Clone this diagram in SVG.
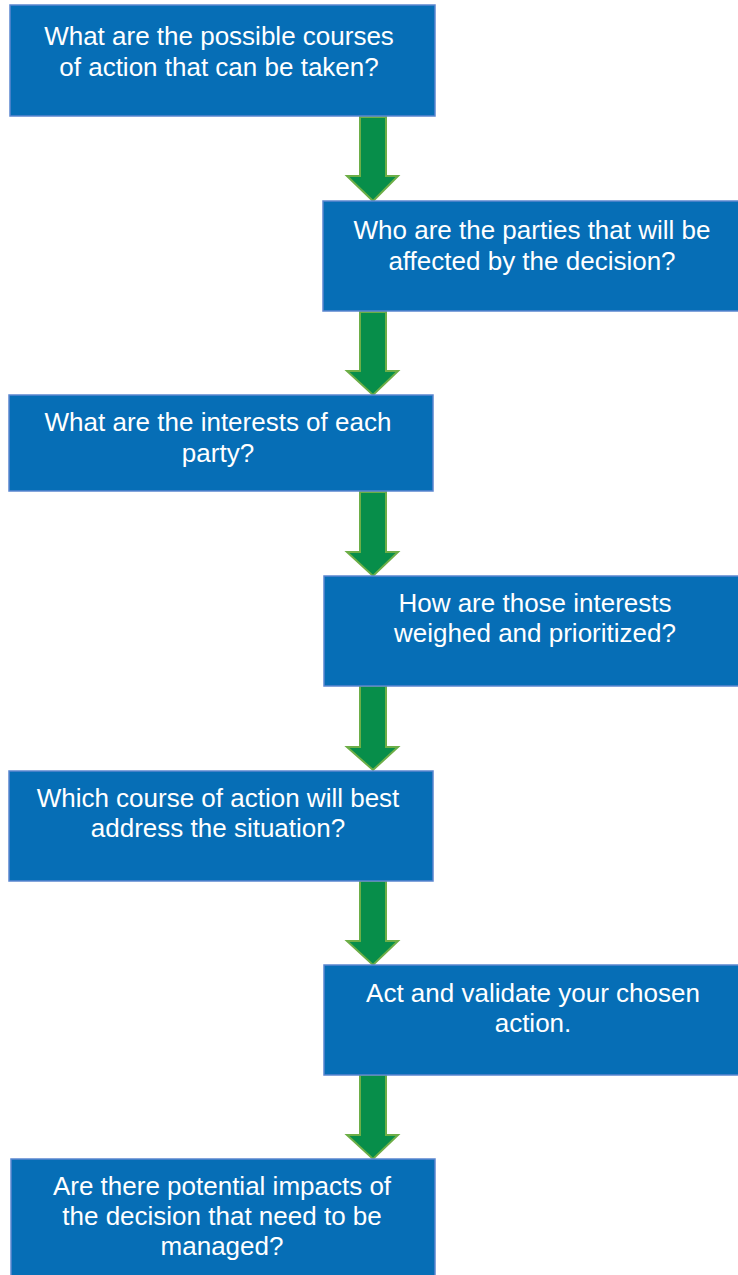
<svg xmlns="http://www.w3.org/2000/svg" width="738" height="1275" viewBox="0 0 738 1275">
<style>
.box{fill:#066EB6;stroke:#5B86CF;stroke-width:1.5}
.t{font-family:"Liberation Sans",Arial,sans-serif;font-size:26px;fill:#ffffff;text-anchor:middle}
.arr{fill:#078E4A;stroke:#6DAE47;stroke-width:2;stroke-linejoin:miter}
</style>
<rect width="738" height="1275" fill="#ffffff"/>
<g id="connectors">
<path class="arr" d="M360,117 H386 V176 H398 L373,201 L347,176 H360 Z"/>
<path class="arr" d="M360,312 H386 V371 H398 L373,395 L347,371 H360 Z"/>
<path class="arr" d="M360,492 H386 V552 H398 L373,576 L347,552 H360 Z"/>
<path class="arr" d="M360,686 H386 V747 H398 L373,770 L347,747 H360 Z"/>
<path class="arr" d="M360,881 H386 V941 H398 L373,965 L347,941 H360 Z"/>
<path class="arr" d="M360,1075 H386 V1135 H398 L373,1159 L347,1135 H360 Z"/>
</g>
<g id="node1">
<rect class="box" x="10" y="5" width="425" height="111"/>
<text class="t" x="219" y="45">What are the possible courses</text>
<text class="t" x="219" y="76">of action that can be taken?</text>
</g>
<g id="node2">
<rect class="box" x="323" y="201" width="416" height="110"/>
<text class="t" x="532" y="239">Who are the parties that will be</text>
<text class="t" x="532" y="270">affected by the decision?</text>
</g>
<g id="node3">
<rect class="box" x="9" y="395" width="424" height="96"/>
<text class="t" x="218" y="431">What are the interests of each</text>
<text class="t" x="218" y="462">party?</text>
</g>
<g id="node4">
<rect class="box" x="324" y="576" width="415" height="110"/>
<text class="t" x="535" y="612">How are those interests</text>
<text class="t" x="535" y="642">weighed and prioritized?</text>
</g>
<g id="node5">
<rect class="box" x="9" y="771" width="424" height="110"/>
<text class="t" x="218" y="807">Which course of action will best</text>
<text class="t" x="218" y="837">address the situation?</text>
</g>
<g id="node6">
<rect class="box" x="324" y="965" width="415" height="110"/>
<text class="t" x="533" y="1002">Act and validate your chosen</text>
<text class="t" x="533" y="1032">action.</text>
</g>
<g id="node7">
<rect class="box" x="11" y="1159" width="424" height="125"/>
<text class="t" x="222" y="1195">Are there potential impacts of</text>
<text class="t" x="222" y="1225">the decision that need to be</text>
<text class="t" x="222" y="1255">managed?</text>
</g>
</svg>
